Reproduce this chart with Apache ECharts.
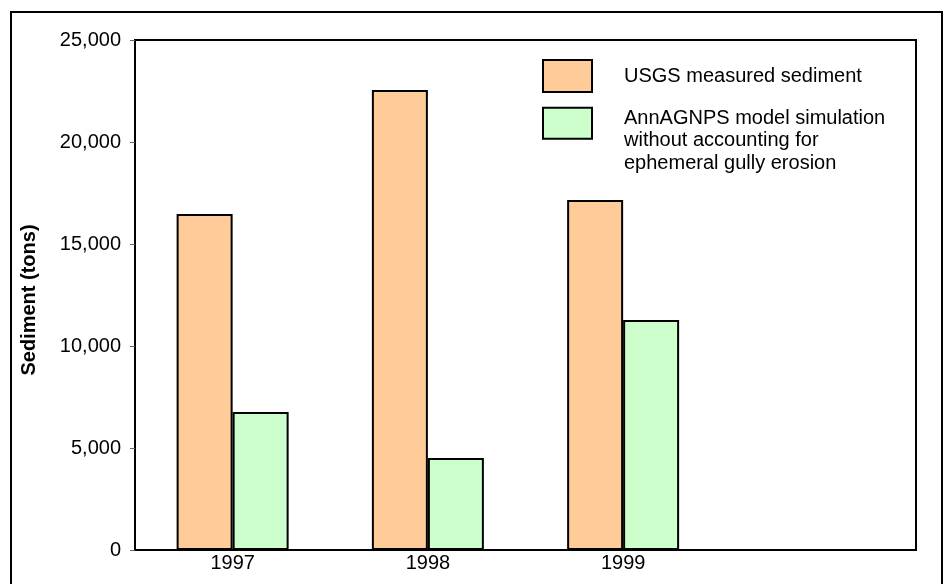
<!DOCTYPE html>
<html>
<head>
<meta charset="utf-8">
<script src="https://cdn.jsdelivr.net/npm/echarts@6/dist/echarts.min.js"></script>
<style>
  html, body { margin: 0; padding: 0; background: #fff; }
  #chart { width: 951px; height: 584px; }
</style>
</head>
<body>
<div id="chart"></div>
<script>
'use strict';
// data
const years = ['1997', '1998', '1999', ''];
const measured = [16470, 22550, 17160, null];
const simulated = [6760, 4510, 11270, null];
const measuredName = 'USGS measured sediment';
const simulatedName = 'AnnAGNPS model simulation\nwithout accounting for\nephemeral gully erosion';

{
    let dom = document.getElementById('chart');
    let myChart = echarts.init(dom);
    const font = '"Liberation Sans", Arial, sans-serif';

    let option = {
        animation: false,
        backgroundColor: '#fff',
        textStyle: { fontFamily: font },
        graphic: [{
            type: 'rect',
            shape: { x: 11, y: 12, width: 931, height: 600 },
            style: { fill: 'none', stroke: '#000', lineWidth: 2 },
            silent: true
        }],
        grid: {
            left: 135, top: 40, right: 35, bottom: 34,
            show: true,
            borderColor: '#000',
            borderWidth: 2,
            containLabel: false
        },
        legend: [{
            data: [measuredName],
            left: 537, top: 54,
            itemWidth: 49, itemHeight: 32,
            selectedMode: false,
            icon: 'rect',
            itemStyle: { borderColor: '#000', borderWidth: 2 },
            textStyle: { fontSize: 20, color: '#000', fontFamily: font, padding: [0, 0, 0, 27] }
        }, {
            data: [simulatedName],
            left: 537, top: 67,
            itemWidth: 49, itemHeight: 31,
            selectedMode: false,
            icon: 'rect',
            itemStyle: { borderColor: '#000', borderWidth: 2 },
            // blank first line pushes the three text lines down so the first one sits beside the box
            formatter: function (name) { return '{s| }\n' + name; },
            textStyle: {
                fontSize: 20, color: '#000', fontFamily: font, lineHeight: 22.5, padding: [0, 0, 0, 27],
                rich: { s: { fontSize: 10, lineHeight: 35 } }
            }
        }],
        xAxis: {
            type: 'category',
            data: years,
            axisLine: { lineStyle: { color: '#000', width: 2 } },
            axisTick: { show: false },
            axisLabel: { fontSize: 20, color: '#000', margin: 3, fontFamily: font },
            splitLine: { show: false }
        },
        yAxis: {
            type: 'value',
            min: 0, max: 25000, interval: 5000,
            name: 'Sediment (tons)',
            nameLocation: 'middle',
            nameGap: 96,
            nameTextStyle: { fontSize: 20, fontWeight: 'bold', color: '#000', fontFamily: font, padding: [0, 10, 0, 0] },
            axisLine: { show: true, lineStyle: { color: '#000', width: 2 } },
            axisTick: { show: true, length: 5, lineStyle: { color: '#666', width: 1 } },
            axisLabel: {
                fontSize: 20, color: '#000', margin: 14, fontFamily: font,
                formatter: function (v) { return v.toLocaleString('en-US'); }
            },
            splitLine: { show: false }
        },
        series: [{
            name: measuredName,
            type: 'bar',
            data: measured,
            barWidth: 56,
            barGap: '0%',
            itemStyle: { color: '#FFCC99', borderColor: '#000', borderWidth: 2 }
        }, {
            name: simulatedName,
            type: 'bar',
            data: simulated,
            barWidth: 56,
            itemStyle: { color: '#CCFFCC', borderColor: '#000', borderWidth: 2 }
        }]
    };
    if (option && typeof option === 'object') {
        myChart.setOption(option, true);
    }
}
</script>
</body>
</html>
